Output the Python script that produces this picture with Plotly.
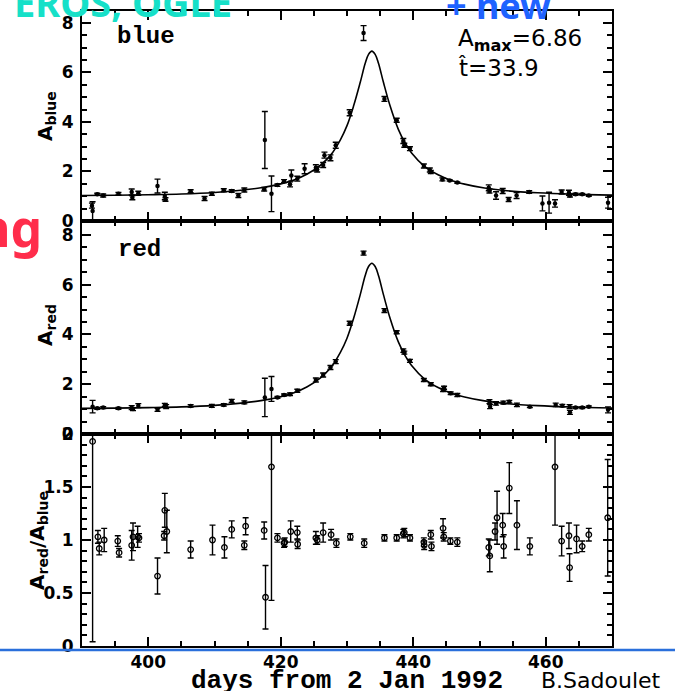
import plotly.graph_objects as go
from plotly.subplots import make_subplots

# ---------------- data ----------------
blue_day = [391.5, 391.6, 392.3, 393.2, 395.5, 397.5, 397.6, 398.5, 401.4, 402.5, 402.6, 406.4,
            408.5, 409.6, 411.4, 412.6, 413.6, 414.5, 417.5, 417.6, 418.6, 419.5, 420.5, 421.4,
            421.6, 422.5, 423.6, 425.3, 425.5, 426.4, 426.6, 427.5, 428.3, 430.4, 432.5, 435.65,
            437.5, 438.5, 438.65, 439.5, 441.6, 442.5, 442.65, 444.4, 445.5, 446.65, 451.4, 451.5,
            452.5, 453.5, 454.4, 455.6, 457.5, 459.5, 460.5, 461.4, 462.4, 463.5, 463.65, 464.5,
            465.5, 466.5, 469.4]
blue_amp = [0.62, 0.40, 1.08, 1.03, 1.10, 1.17, 0.94, 1.12, 1.41, 1.01, 0.87, 1.20,
            0.91, 1.10, 1.24, 1.21, 1.03, 1.25, 1.28, 3.27, 1.10, 1.45, 1.61, 1.48,
            1.84, 1.71, 2.11, 2.15, 2.08, 2.26, 2.66, 2.55, 3.06, 4.37, 7.59, 4.93,
            4.07, 3.23, 3.06, 2.92, 2.22, 2.06, 1.98, 1.68, 1.64, 1.55, 1.34, 1.21,
            1.03, 1.21, 0.87, 1.03, 1.17, 0.71, 0.74, 0.71, 1.17, 1.14, 1.03, 1.08,
            1.08, 1.03, 0.74]
blue_err = [0.10, 0.38, 0.04, 0.06, 0.05, 0.12, 0.08, 0.08, 0.28, 0.15, 0.07, 0.06,
            0.08, 0.06, 0.06, 0.05, 0.08, 0.08, 0.07, 1.15, 0.72, 0.05, 0.06, 0.10,
            0.22, 0.10, 0.20, 0.12, 0.10, 0.10, 0.12, 0.12, 0.12, 0.12, 0.30, 0.10,
            0.08, 0.10, 0.08, 0.08, 0.08, 0.08, 0.06, 0.06, 0.03, 0.03, 0.12, 0.08,
            0.15, 0.10, 0.08, 0.12, 0.05, 0.30, 0.42, 0.15, 0.08, 0.10, 0.06, 0.04,
            0.03, 0.03, 0.22]

red_day = [391.6, 392.3, 393.2, 395.5, 397.5, 397.7, 398.5, 401.4, 402.5, 402.7, 406.4, 409.6,
           411.4, 412.6, 414.5, 417.6, 418.6, 419.5, 420.5, 421.4, 422.5, 425.3, 426.4, 427.5,
           428.3, 430.4, 432.5, 435.65, 437.5, 438.5, 438.65, 439.5, 441.6, 442.65, 444.5, 444.65,
           445.65, 446.65, 451.5, 451.6, 452.5, 453.6, 454.5, 455.65, 457.6, 461.5, 462.5, 463.6,
           463.65, 464.5, 465.5, 466.5, 469.4]
red_amp = [1.10, 1.03, 1.06, 1.03, 1.06, 1.00, 1.14, 0.97, 1.17, 1.10, 1.13, 1.13,
           1.17, 1.33, 1.27, 1.47, 1.81, 1.47, 1.57, 1.60, 1.74, 2.17, 2.37, 2.67,
           2.91, 4.45, 7.27, 4.96, 4.09, 3.35, 3.27, 2.94, 2.17, 2.00, 1.77, 1.86,
           1.64, 1.57, 1.30, 1.10, 1.23, 1.26, 1.30, 1.17, 1.10, 1.17, 1.14, 1.10,
           0.87, 1.06, 1.06, 1.10, 0.97]
red_err = [0.25, 0.04, 0.04, 0.04, 0.08, 0.06, 0.08, 0.06, 0.06, 0.08, 0.05, 0.06,
           0.05, 0.06, 0.06, 0.77, 0.50, 0.04, 0.04, 0.05, 0.06, 0.08, 0.08, 0.08,
           0.08, 0.08, 0.08, 0.08, 0.06, 0.07, 0.06, 0.06, 0.06, 0.06, 0.06, 0.06,
           0.05, 0.06, 0.08, 0.08, 0.07, 0.06, 0.05, 0.07, 0.04, 0.07, 0.05, 0.08,
           0.08, 0.04, 0.04, 0.03, 0.12]

ratio_day = [391.6, 392.4, 392.6, 393.35, 395.4, 395.6, 397.5, 397.7, 398.4, 398.6, 401.4, 402.4,
             402.5, 402.8, 406.4, 409.7, 411.5, 412.6, 414.5, 414.7, 417.5, 417.7, 418.6, 419.5,
             420.5, 420.6, 421.5, 422.5, 422.55, 425.3, 425.5, 426.4, 427.6, 428.4, 430.5, 432.6,
             435.65, 437.5, 438.5, 438.65, 439.5, 441.6, 441.65, 442.65, 442.75, 444.5, 444.6, 445.6,
             446.65, 451.4, 451.55, 452.35, 452.65, 453.5, 453.65, 454.5, 455.65, 457.6, 461.4, 462.4,
             463.5, 463.6, 464.65, 465.5, 466.5, 469.35]
ratio_val = [1.93, 1.03, 0.92, 1.00, 0.99, 0.88, 0.95, 1.03, 1.03, 1.02, 0.66, 1.04,
             1.28, 1.08, 0.91, 1.00, 0.93, 1.10, 0.95, 1.13, 1.09, 0.46, 1.69, 1.02,
             0.97, 0.98, 1.08, 1.07, 0.96, 1.02, 1.00, 1.07, 1.05, 0.97, 1.03, 0.97,
             1.02, 1.02, 1.06, 1.07, 1.02, 0.98, 0.95, 1.05, 0.94, 1.11, 1.03, 0.99,
             0.98, 0.93, 0.85, 1.08, 1.21, 1.14, 0.94, 1.49, 1.14, 0.94, 1.69, 0.99,
             1.04, 0.74, 1.01, 0.94, 1.05, 1.21]
ratio_up = [0.30, 0.06, 0.06, 0.11, 0.05, 0.04, 0.14, 0.13, 0.10, 0.04, 0.17, 0.04,
            0.16, 0.20, 0.08, 0.14, 0.10, 0.08, 0.04, 0.08, 0.08, 0.30, 0.40, 0.04,
            0.04, 0.04, 0.10, 0.06, 0.04, 0.06, 0.04, 0.09, 0.05, 0.04, 0.03, 0.04,
            0.03, 0.03, 0.04, 0.04, 0.03, 0.04, 0.04, 0.04, 0.04, 0.09, 0.04, 0.03,
            0.04, 0.08, 0.15, 0.08, 0.25, 0.11, 0.11, 0.24, 0.23, 0.08, 0.40, 0.14,
            0.12, 0.13, 0.13, 0.05, 0.06, 0.55]
ratio_dn = [1.89, 0.06, 0.06, 0.11, 0.05, 0.04, 0.14, 0.13, 0.10, 0.04, 0.17, 0.04,
            0.16, 0.20, 0.08, 0.14, 0.10, 0.08, 0.04, 0.08, 0.08, 0.30, 1.26, 0.04,
            0.04, 0.04, 0.10, 0.06, 0.04, 0.06, 0.04, 0.09, 0.05, 0.04, 0.03, 0.04,
            0.03, 0.03, 0.04, 0.04, 0.03, 0.04, 0.04, 0.04, 0.04, 0.09, 0.04, 0.03,
            0.04, 0.08, 0.15, 0.08, 0.25, 0.11, 0.11, 0.24, 0.23, 0.08, 0.55, 0.14,
            0.12, 0.13, 0.13, 0.05, 0.06, 0.55]

# fitted light curve
fit_day = [390, 395, 400, 405, 410, 414, 417, 420, 422, 424, 426, 427.5, 429, 430, 431, 432,
           432.75, 433.25, 433.75, 434.25, 434.75, 435.5, 436.5, 437.75, 438.75, 439.75, 441.75,
           443.75, 445.75, 447.75, 450.75, 453.75, 458.75, 463.75, 470]
fit_amp = [1.03, 1.04, 1.06, 1.09, 1.15, 1.24, 1.34, 1.50, 1.66, 1.90, 2.26, 2.65, 3.28, 3.85,
           4.65, 5.60, 6.37, 6.73, 6.86, 6.73, 6.37, 5.60, 4.65, 3.70, 3.16, 2.75, 2.20,
           1.87, 1.64, 1.49, 1.33, 1.23, 1.14, 1.085, 1.045]

x_ticks = [400, 420, 440, 460]

# ---------------- figure ----------------
W, H = 675, 691
L, R, T, B = 82, 612, 11, 646


def px(x):
    return (x - L) / (R - L)


def py(y):
    return (B - y) / (B - T)


fig = make_subplots(rows=3, cols=1, shared_xaxes=True, vertical_spacing=0)

dot = dict(color="black", size=4.5, symbol="circle")
for row, dd, aa, ee in [(1, blue_day, blue_amp, blue_err), (2, red_day, red_amp, red_err)]:
    fig.add_trace(go.Scatter(x=fit_day, y=fit_amp, mode="lines",
                             line=dict(color="black", width=1.6, shape="spline"),
                             showlegend=False, hoverinfo="skip"), row=row, col=1)
    fig.add_trace(go.Scatter(x=dd, y=aa, mode="markers", marker=dot,
                             error_y=dict(type="data", array=ee, visible=True,
                                          color="black", thickness=1.4, width=3),
                             showlegend=False), row=row, col=1)

fig.add_hline(y=1, line=dict(color="black", width=2), row=3, col=1)
fig.add_trace(go.Scatter(x=ratio_day, y=ratio_val, mode="markers",
                         marker=dict(color="black", size=5.5, symbol="circle-open",
                                     line=dict(width=1.3, color="black")),
                         error_y=dict(type="data", symmetric=False, array=ratio_up,
                                      arrayminus=ratio_dn, visible=True,
                                      color="black", thickness=1.4, width=3),
                         showlegend=False), row=3, col=1)

tickfont = dict(family="DejaVu Sans", size=17, color="black", weight="bold")
common = dict(showline=True, linecolor="black", linewidth=2, mirror="allticks",
              ticks="inside", ticklen=9, tickwidth=2, tickcolor="black",
              showgrid=False, zeroline=False, tickfont=tickfont, automargin=False)

h1, h2 = 210, 213
d3 = (B - T - h1 - h2) / (B - T)
d2 = d3 + h2 / (B - T)
domains = {1: [d2, 1.0], 2: [d3, d2], 3: [0.0, d3]}
yranges = {1: [0, 8.48], 2: [0, 8.56], 3: [0, 2]}

for r in (1, 2, 3):
    fig.update_xaxes(range=[390, 470], tickmode="array", tickvals=x_ticks,
                     minor=dict(ticks="inside", dtick=5, tick0=390, ticklen=5,
                                tickwidth=1.6, tickcolor="black"),
                     showticklabels=(r == 3), row=r, col=1, **common)
    if r < 3:
        fig.update_yaxes(domain=domains[r], range=yranges[r], tickmode="linear",
                         tick0=0, dtick=2, ticklabelstandoff=3,
                         minor=dict(ticks="inside", dtick=0.5, tick0=0, ticklen=5,
                                    tickwidth=1.6, tickcolor="black"),
                         row=r, col=1, **common)
    else:
        fig.update_yaxes(domain=domains[r], range=yranges[r], tickmode="linear",
                         tick0=0, dtick=0.5, ticklabelstandoff=3,
                         minor=dict(ticks="inside", dtick=0.1, tick0=0, ticklen=5,
                                    tickwidth=1.6, tickcolor="black"),
                         row=r, col=1, **common)

ann = []


def add(text, x, y, size, family="DejaVu Sans", color="black", xa="center", ya="middle",
        angle=0, weight="normal"):
    ann.append(dict(text=text, x=px(x), y=py(y), xref="paper", yref="paper",
                    xanchor=xa, yanchor=ya, showarrow=False, textangle=angle,
                    font=dict(family=family, size=size, color=color, weight=weight)))


add("blue", 146, 36, 24, family="Liberation Mono", weight="bold")
add("red", 139, 249, 24, family="Liberation Mono", weight="bold")
add("A<sub><b>max</b></sub>=6.86", 456, 40, 23, xa="left")
add("t\u0302=33.9", 456, 68, 23, xa="left")
add("A<sub>blue</sub>", 46, 116, 20, angle=-90, weight="bold")
add("A<sub>red</sub>", 46, 325, 20, angle=-90, weight="bold")
add("A<sub>red</sub>/A<sub>blue</sub>", 38, 541, 20, angle=-90, weight="bold")
add("days from 2 Jan 1992", 347, 681, 26, family="Liberation Mono", weight="bold")
add("B.Sadoulet", 601, 680, 22)
add("EROS, OGLE", 12, 30, 38, family="Noto Sans", color="#16e0c8", xa="left", ya="bottom",
    weight="bold")
add("+ new", 444, 32, 36, family="Noto Sans", color="#1f63ff", xa="left", ya="bottom",
    weight="bold")
add("ng", 44, 228, 50, family="Noto Sans", color="#ff2d4b", xa="right", weight="bold")

fig.update_layout(
    width=W, height=H, autosize=False,
    margin=dict(l=L, r=W - R, t=T, b=H - B, pad=0, autoexpand=False),
    paper_bgcolor="white", plot_bgcolor="white",
    annotations=ann,
    shapes=list(fig.layout.shapes) + [dict(type="line", xref="paper", yref="paper",
                                           x0=px(0), x1=px(W), y0=py(650), y1=py(650),
                                           line=dict(color="#2a6fdb", width=2.5))],
    showlegend=False,
)

fig.write_html("out.html", config={"displayModeBar": False},
               post_script="document.body.style.margin='0';document.body.style.overflow='hidden';")
